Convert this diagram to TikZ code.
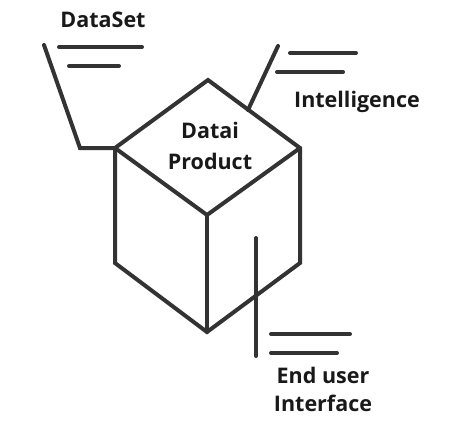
\documentclass[tikz,border=0pt]{standalone}
\usepackage{fontspec}
\setmainfont{Open Sans}
\begin{document}
\begin{tikzpicture}[x=1pt,y=-1pt,
  ln/.style={draw=black!80, line width=4pt, line cap=round, line join=miter},
  lbl/.style={font=\fontsize{21.5}{26}\selectfont\bfseries, text=black!90, inner sep=0pt, align=center}]
\useasboundingbox (0,0) rectangle (461,423);
% cube vertices
\coordinate (T) at (208,80);
\coordinate (L) at (115,148);
\coordinate (R) at (300,148);
\coordinate (C) at (207,215);
\coordinate (BL) at (115,263);
\coordinate (BR) at (300,263);
\coordinate (B) at (207,332);
\draw[ln] (T) -- (L) -- (BL) -- (B) -- (BR) -- (R) -- cycle;
\draw[ln] (L) -- (C) -- (R);
\draw[ln] (C) -- (B);
% DataSet
\coordinate (d1) at (80,148);
\coordinate (d2) at (44,45);
\draw[ln] (L) -- (d1) -- (d2);
\coordinate (da1) at (59,47); \coordinate (da2) at (142,47);
\coordinate (db1) at (69,66); \coordinate (db2) at (119,66);
\draw[ln] (da1) -- (da2);
\draw[ln] (db1) -- (db2);
\node[lbl] (ds) at (103,20) {DataSet};
% Intelligence
\coordinate (i0) at (248,110);
\coordinate (i1) at (278,46);
\draw[ln] (i0) -- (i1);
\coordinate (ia1) at (290,53); \coordinate (ia2) at (356,53);
\coordinate (ib1) at (277,72); \coordinate (ib2) at (343,72);
\draw[ln] (ia1) -- (ia2);
\draw[ln] (ib1) -- (ib2);
\node[lbl] (int) at (357,102) {Intelligence};
% End user
\coordinate (e0) at (256,238);
\coordinate (e1) at (256,356);
\draw[ln] (e0) -- (e1);
\coordinate (ea1) at (271,334); \coordinate (ea2) at (350,334);
\coordinate (eb1) at (271,353); \coordinate (eb2) at (337,353);
\draw[ln] (ea1) -- (ea2);
\draw[ln] (eb1) -- (eb2);
\node[lbl] (eu) at (323,375) {End user};
\node[lbl] (ei) at (323,403) {Interface};
% center text
\node[lbl] (dp1) at (210,130) {Datai};
\node[lbl] (dp2) at (210,161) {Product};
\end{tikzpicture}
\end{document}
